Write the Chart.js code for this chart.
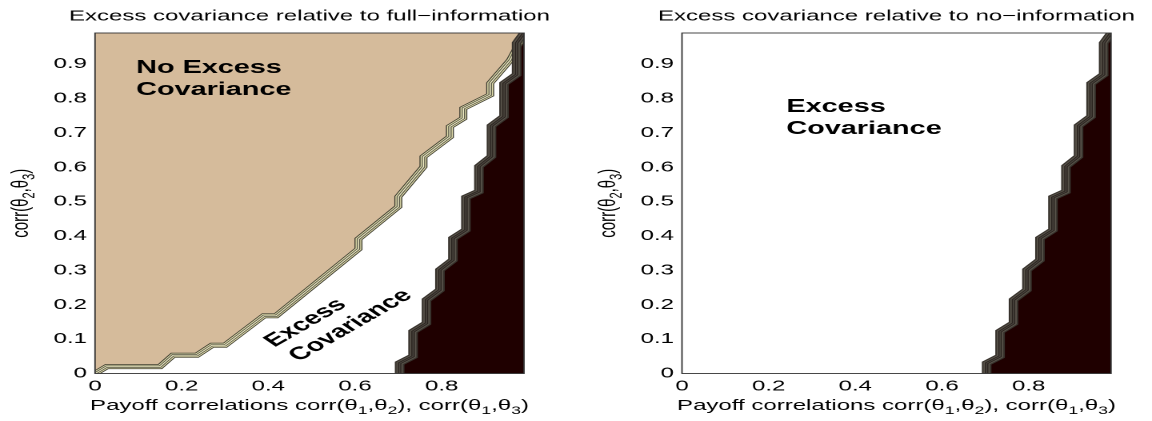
<!DOCTYPE html>
<html>
<head>
<meta charset="utf-8">
<title>Excess covariance</title>
<script src="https://cdn.jsdelivr.net/npm/chart.js@4/dist/chart.umd.min.js"></script>
<style>
  html, body { margin: 0; padding: 0; background: #fff; }
  #wrap { position: relative; width: 1152px; height: 421px; overflow: hidden; }
  canvas { position: absolute; top: 0; }
</style>
</head>
<body>
<div id="wrap">
  <!-- drawn at 360 wide and stretched to 576 by CSS, the original figure is stretched the same way -->
  <canvas id="fullInfo" width="360" height="421" style="left:0;width:576px;height:421px"></canvas>
  <canvas id="noInfo" width="360" height="421" style="left:576px;width:576px;height:421px"></canvas>
</div>
<script>
// Data
const axisMax = 0.99;
const xTicks = [0, 0.2, 0.4, 0.6, 0.8];
const yTicks = [0, 0.1, 0.2, 0.3, 0.4, 0.5, 0.6, 0.7, 0.8, 0.9];

// lower edge of the "no excess covariance" region (left panel)
const fullInfoX = [0, 0.027, 0.150, 0.180, 0.235, 0.270, 0.300, 0.390, 0.418, 0.608, 0.608,
                   0.700, 0.700, 0.758, 0.758, 0.819, 0.819, 0.850, 0.850, 0.912, 0.912, 0.958, 0.977, 0.99];
const fullInfoY = [0, 0.020, 0.020, 0.053, 0.053, 0.082, 0.082, 0.168, 0.168, 0.362, 0.391,
                   0.485, 0.514, 0.601, 0.630, 0.688, 0.718, 0.742, 0.771, 0.810, 0.844, 0.911, 0.955, 0.99];

// left edge of the dark region (same staircase in both panels)
const darkX = [0.703, 0.703, 0.734, 0.734, 0.765, 0.765, 0.796, 0.796, 0.826, 0.826, 0.856,
               0.856, 0.886, 0.886, 0.915, 0.915, 0.944, 0.944, 0.973, 0.973, 0.99];
const darkY = [0, 0.030, 0.050, 0.122, 0.146, 0.214, 0.243, 0.301, 0.330, 0.393, 0.417,
               0.512, 0.529, 0.602, 0.631, 0.720, 0.747, 0.843, 0.869, 0.961, 0.99];

const FONT = '"Liberation Sans", Arial, Helvetica, sans-serif';
const TAN = '#d5bb9b';
const DARK = '#1f0000';

const xTitleParts = [['Payoff correlations corr(\u03b8', 0], ['1', 1], [',\u03b8', 0], ['2', 1],
                     ['), corr(\u03b8', 0], ['1', 1], [',\u03b8', 0], ['3', 1], [')', 0]];
const yTitleParts = [['corr(\u03b8', 0], ['2', 1], [',\u03b8', 0], ['3', 1], [')', 0]];

function toPoints(xs, ys) {
    return xs.map((x, i) => ({ x: x, y: ys[i] }));
}

// text with subscripts, centred on x
function drawSubText(ctx, parts, x, y) {
    const big = '15px ' + FONT, small = '11px ' + FONT;
    let total = 0;
    parts.forEach(p => { ctx.font = p[1] ? small : big; total += ctx.measureText(p[0]).width; });
    let cx = x - total / 2;
    ctx.textAlign = 'left';
    ctx.textBaseline = 'alphabetic';
    parts.forEach(p => {
        ctx.font = p[1] ? small : big;
        ctx.fillText(p[0], cx, p[1] ? y + 4 : y);
        cx += ctx.measureText(p[0]).width;
    });
}

const decor = {
    id: 'decor',
    afterDraw(chart, args, opts) {
        const { ctx, chartArea: a, scales } = chart;
        const sx = scales.x, sy = scales.y;
        ctx.save();
        ctx.strokeStyle = '#333';
        ctx.lineWidth = 0.9;
        ctx.strokeRect(a.left, a.top, a.right - a.left, a.bottom - a.top);

        ctx.fillStyle = '#000';
        ctx.font = '15px ' + FONT;
        ctx.textAlign = 'center';
        ctx.textBaseline = 'alphabetic';
        ctx.fillText(opts.title, (a.left + a.right) / 2, 20.5);

        drawSubText(ctx, xTitleParts, (a.left + a.right) / 2, 410);

        ctx.save();
        ctx.translate(a.left - 42, (a.top + a.bottom) / 2);
        ctx.rotate(-Math.PI / 2);
        drawSubText(ctx, yTitleParts, 0, 0);
        ctx.restore();

        // region labels
        ctx.font = 'bold 18px ' + FONT;
        (opts.labels || []).forEach(l => {
            const px = sx.getPixelForValue(l.x), py = sy.getPixelForValue(l.y);
            if (l.angle) {
                ctx.save();
                ctx.translate(px, py);
                ctx.rotate(l.angle * Math.PI / 180);
                ctx.textAlign = 'center';
                ctx.textBaseline = 'middle';
                ctx.fillText(l.lines[0], 0, 0);
                ctx.fillText(l.lines[1], 19, 21);
                ctx.restore();
            } else {
                ctx.textAlign = 'left';
                ctx.textBaseline = 'alphabetic';
                ctx.fillText(l.lines[0], px, py);
                ctx.fillText(l.lines[1], px, sy.getPixelForValue(l.y2));
            }
        });
        ctx.restore();
    }
};

function bandLines(points, styles, order) {
    return styles.map((s, i) => ({
        data: points,
        showLine: true,
        fill: false,
        borderColor: s[0],
        borderWidth: s[1],
        pointRadius: 0,
        tension: 0,
        borderJoinStyle: 'miter',
        order: order - i
    }));
}

const tanBand = [['#3e3d31', 5], ['#e3dfad', 3.6], ['#5a594a', 2.2], ['#ece9c0', 0.8]];
const darkBand = [['#37322c', 6], ['#58534a', 4], ['#2a231f', 2.2], ['#4a453e', 0.8]];

function makeChart(id, plotLeft, plotRight, title, withTan, labels) {
    const W = 360, H = 421, top = 33, bottom = 373.5;
    const dark = toPoints(darkX, darkY);
    let datasets = [];
    if (withTan) {
        const tan = toPoints(fullInfoX, fullInfoY);
        datasets.push({ data: tan, showLine: true, fill: 'end', backgroundColor: TAN,
                        borderWidth: 0, pointRadius: 0, tension: 0, order: 20 });
        datasets = datasets.concat(bandLines(tan, tanBand, 10));
    }
    datasets.push({ data: dark, showLine: true, fill: 'start', backgroundColor: DARK,
                    borderWidth: 0, pointRadius: 0, tension: 0, order: 19 });
    datasets = datasets.concat(bandLines(dark, darkBand, 5));

    const tickFont = { family: FONT, size: 15 };
    return new Chart(document.getElementById(id), {
        type: 'scatter',
        data: { datasets: datasets },
        options: {
            responsive: false,
            devicePixelRatio: 2,
            animation: false,
            events: [],
            layout: { padding: { left: 0, top: top, right: W - plotRight, bottom: 0 } },
            plugins: {
                legend: { display: false },
                tooltip: { enabled: false },
                decor: { title: title, labels: labels }
            },
            scales: {
                x: {
                    type: 'linear', min: 0, max: axisMax,
                    grid: { display: false, drawTicks: false },
                    border: { display: false },
                    afterBuildTicks: s => { s.ticks = xTicks.map(v => ({ value: v })); },
                    afterFit: s => { s.height = H - bottom; },
                    ticks: { color: '#000', font: tickFont, padding: 4, maxRotation: 0,
                             callback: v => String(v) }
                },
                y: {
                    type: 'linear', min: 0, max: axisMax,
                    grid: { display: false, drawTicks: false },
                    border: { display: false },
                    afterBuildTicks: s => { s.ticks = yTicks.map(v => ({ value: v })); },
                    afterFit: s => { s.width = plotLeft; },
                    ticks: { color: '#000', font: tickFont, padding: 5,
                             callback: v => String(v) }
                }
            }
        },
        plugins: [decor]
    });
}

makeChart('fullInfo', 59.4, 327.5, 'Excess covariance relative to full\u2212information', true, [
    { lines: ['No Excess', 'Covariance'], x: 0.095, y: 0.873, y2: 0.81 },
    { lines: ['Excess', 'Covariance'], x: 0.486, y: 0.147, angle: -42.5 }
]);
makeChart('noInfo', 66.25, 334.4, 'Excess covariance relative to no\u2212information', false, [
    { lines: ['Excess', 'Covariance'], x: 0.241, y: 0.761, y2: 0.696 }
]);
</script>
</body>
</html>
